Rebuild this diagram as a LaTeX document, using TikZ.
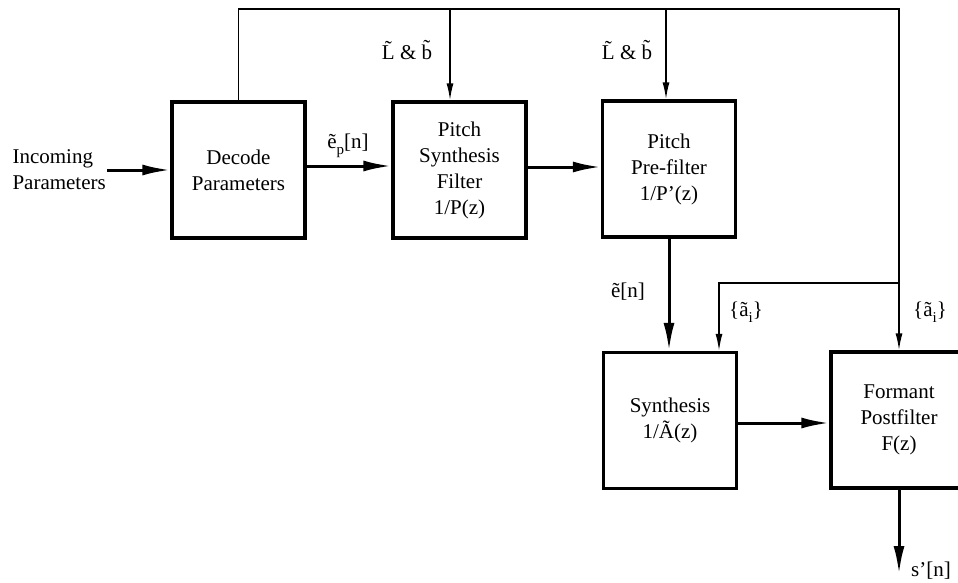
\documentclass[tikz,border=0pt]{standalone}
\usepackage{fontspec}
\setmainfont{Liberation Serif}
\usetikzlibrary{arrows.meta}
\newcommand\lowsub[1]{\raisebox{-6pt}{\fontsize{15}{15}\selectfont #1}}
\begin{document}
\begin{tikzpicture}[x=1pt,y=-1pt,
  font=\fontsize{21}{26}\selectfont,
  box/.style={draw, line width=3.3pt, minimum width=133pt, minimum height=136pt, align=center, inner sep=0pt},
  thk/.style={line width=3pt, -{Latex[length=28pt,width=11pt]}},
  thn/.style={line width=1.6pt, -{Latex[length=17pt,width=7pt]}},
  lbl/.style={inner sep=1pt}]
\clip (0,0) rectangle (958,583);
% blocks
\node[box] (dec) at (238.5,170) {Decode\\Parameters};
\node[box] (psf) at (459.5,170) {Pitch\\Synthesis\\Filter\\1/P(z)};
\node[box] (ppf) at (669,169) {Pitch\\Pre-filter\\1/P'(z)};
\node[box] (syn) at (670,420.5) {Synthesis\\1/Ã(z)};
\node[box, minimum width=136pt] (fpf) at (899,420) {Formant\\Postfilter\\F(z)};
% input text
\node[align=left, anchor=east, inner sep=1pt] (inc) at (107,170) {Incoming\\Parameters};
% labels
\node[lbl] (lb1) at (407,50) {L^^^^0303 \& b^^^^0303};
\node[lbl] (lb2) at (627,50) {L^^^^0303 \& b^^^^0303};
\node[lbl] (ep) at (348,146) {ẽ\lowsub{p}[n]};
\node[lbl] (en) at (628,292) {ẽ[n]};
\node[lbl] (a1) at (746,312) {\{ã\lowsub{i}\}};
\node[lbl] (a2) at (930,312) {\{ã\lowsub{i}\}};
\node[lbl] (sn) at (931,571) {s'[n]};
% coordinates
\coordinate (tr) at (899,9);
\coordinate (t1) at (450,9);
\coordinate (t2) at (666,9);
\coordinate (br) at (899,283);
\coordinate (sa) at (719,283);
\coordinate (out) at (899,574);
% main path
\draw[thk] (inc.east) -- (dec.west);
\draw[thk] ([yshift=4pt]dec.east) -- ([yshift=4pt]psf.west);
\draw[thk] ([yshift=3pt]psf.east) -- ([yshift=2pt]ppf.west);
\draw[thk] (ppf.south) -- (ppf.south |- syn.north);
\draw[thk] ([yshift=-2.5pt]syn.east) -- ([yshift=-2.5pt]syn.east -| fpf.west);
\draw[thk] (fpf.south) -- (out);
% feedback
\draw[thn] (dec.north) |- (tr) -- (fpf.north);
\draw[thn] (t1) -- (t1 |- psf.north);
\draw[thn] (t2) -- (t2 |- ppf.north);
\draw[thn] (br) -- (sa) -- (sa |- syn.north);
\end{tikzpicture}
\end{document}
